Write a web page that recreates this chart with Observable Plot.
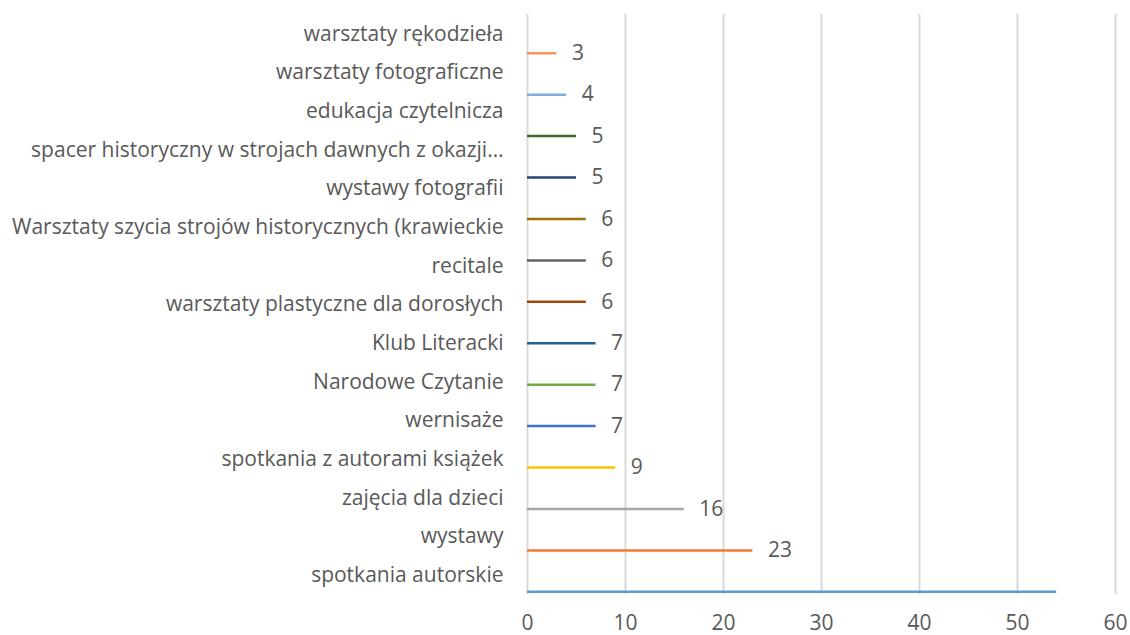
<!DOCTYPE html>
<html><head><meta charset="utf-8">
<script src="https://cdn.jsdelivr.net/npm/d3@7"></script>
<script src="https://cdn.jsdelivr.net/npm/@observablehq/plot@0.6"></script>
<style>
html,body{margin:0;padding:0;background:#fff;}
#chart svg{display:block;}
</style>
</head><body><div id="chart"></div>
<script>
// Category axis labels (top to bottom)
const categories = [
  "warsztaty rękodzieła",
  "warsztaty fotograficzne",
  "edukacja czytelnicza",
  "spacer historyczny w strojach dawnych z okazji…",
  "wystawy fotografii",
  "Warsztaty szycia strojów historycznych (krawieckie",
  "recitale",
  "warsztaty plastyczne dla dorosłych",
  "Klub Literacki",
  "Narodowe Czytanie",
  "wernisaże",
  "spotkania z autorami książek",
  "zajęcia dla dzieci",
  "wystawy",
  "spotkania autorskie"
];
// Bar values (top to bottom)
const values = [3, 4, 5, 5, 6, 6, 6, 7, 7, 7, 9, 16, 23, 54];
const colors = ["#F1975A", "#7CAFDD", "#43682B", "#264478", "#997300", "#636363", "#9E480E",
                "#255E91", "#70AD47", "#4472C4", "#FFC000", "#A5A5A5", "#ED7D31", "#5B9BD5"];
const showValueLabel = [true, true, true, true, true, true, true, true, true, true, true, true, true, false];
const xTicks = [0, 10, 20, 30, 40, 50, 60];

const nBars = values.length, nCats = categories.length;
const BAR_OFFSET = 0.935; // bar sits near the bottom of its slot
const bars = values.map((v, i) => ({value: v, color: colors[i], pos: i + BAR_OFFSET, show: showValueLabel[i]}));
const labels = categories.map((c, j) => ({name: c, pos: (j + 0.5) * nBars / nCats}));

const TXT = "#595959";
const FONT = "'Open Sans', Lato, sans-serif";
const FS = 21;

const chart = Plot.plot({
  width: 1130,
  height: 635,
  marginLeft: 527,
  marginRight: 15,
  marginTop: 14,
  marginBottom: 41,
  style: {fontFamily: FONT, background: "#fff", overflow: "visible"},
  x: {domain: [0, 60], ticks: xTicks, label: null},
  y: {domain: [0, nBars], reverse: true, axis: null},
  marks: [
    Plot.gridX(xTicks, {stroke: "#d9d9d9", strokeWidth: 2, strokeOpacity: 1}),
    Plot.ruleY(bars, {y: "pos", x1: 0, x2: "value", stroke: "color", strokeWidth: 2.5}),
    Plot.text(bars.filter(d => d.show), {y: "pos", x: "value", text: d => String(d.value),
      textAnchor: "start", dx: 15, fill: TXT, fontSize: FS}),
    Plot.text(labels, {y: "pos", frameAnchor: "left", dx: -24, textAnchor: "end",
      text: "name", fill: TXT, fontSize: FS}),
    Plot.axisX({ticks: xTicks, tickSize: 0, tickPadding: 21, fontSize: FS, color: TXT, label: null,
      tickFormat: d => String(d)})
  ]
});
document.getElementById("chart").appendChild(chart);
</script>
</body></html>
